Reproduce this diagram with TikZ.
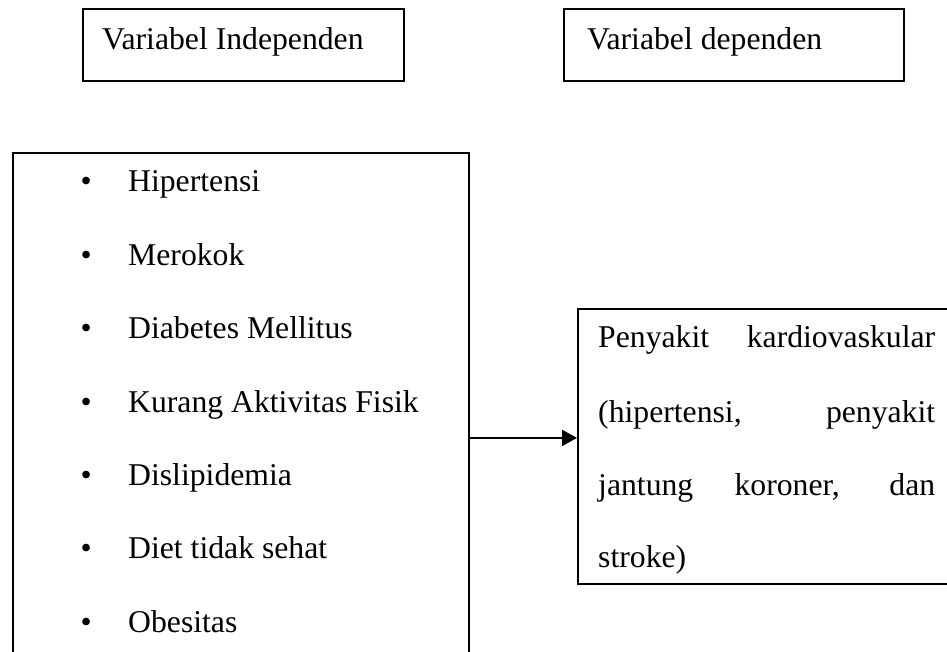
\documentclass[tikz,border=0pt]{standalone}
\usepackage{fontspec}
\setmainfont{Liberation Serif}
\usetikzlibrary{arrows.meta}

\tikzset{
  box/.style = {draw, line width=1.9pt, rectangle, anchor=north west, inner sep=0pt},
  txt/.style = {anchor=base west, inner sep=0pt}
}

\begin{document}
\begin{tikzpicture}[x=1pt, y=-1pt, font=\fontsize{31.7pt}{38pt}\selectfont]
\clip (0,0) rectangle (947,652);

\node[box, minimum width=321pt, minimum height=72pt] (indep) at (82, 8) {};
\node[box, minimum width=340pt, minimum height=72pt] (dep) at (563, 8) {};
\node[txt] (indeplabel) at (102, 50) {Variabel Independen};
\node[txt] (deplabel) at (587, 50) {Variabel dependen};

\node[box, minimum width=456pt, minimum height=570pt] (risk) at (12, 152) {};
\node[txt] (f1) at (80.5, 192) {\makebox[47.5pt][l]{\textbullet}Hipertensi};
\node[txt] (f2) at (80.5, 265.3) {\makebox[47.5pt][l]{\textbullet}Merokok};
\node[txt] (f3) at (80.5, 338.6) {\makebox[47.5pt][l]{\textbullet}Diabetes Mellitus};
\node[txt] (f4) at (80.5, 412) {\makebox[47.5pt][l]{\textbullet}Kurang Aktivitas Fisik};
\node[txt] (f5) at (80.5, 485.3) {\makebox[47.5pt][l]{\textbullet}Dislipidemia};
\node[txt] (f6) at (80.5, 558.6) {\makebox[47.5pt][l]{\textbullet}Diet tidak sehat};
\node[txt] (f7) at (80.5, 632) {\makebox[47.5pt][l]{\textbullet}Obesitas};

\node[box, minimum width=400pt, minimum height=275pt] (cvd) at (577, 308) {};
\node[txt] (c1) at (598, 347) {\makebox[337pt][s]{Penyakit kardiovaskular}};
\node[txt] (c2) at (598, 422) {\makebox[337pt][s]{(hipertensi, penyakit}};
\node[txt] (c3) at (598, 495) {\makebox[337pt][s]{jantung koroner, dan}};
\node[txt] (c4) at (598, 567) {stroke)};

\draw[line width=2pt, -{Triangle[length=15pt, width=16pt]}] (risk.east) -- (risk.east -| cvd.west);
\end{tikzpicture}
\end{document}
